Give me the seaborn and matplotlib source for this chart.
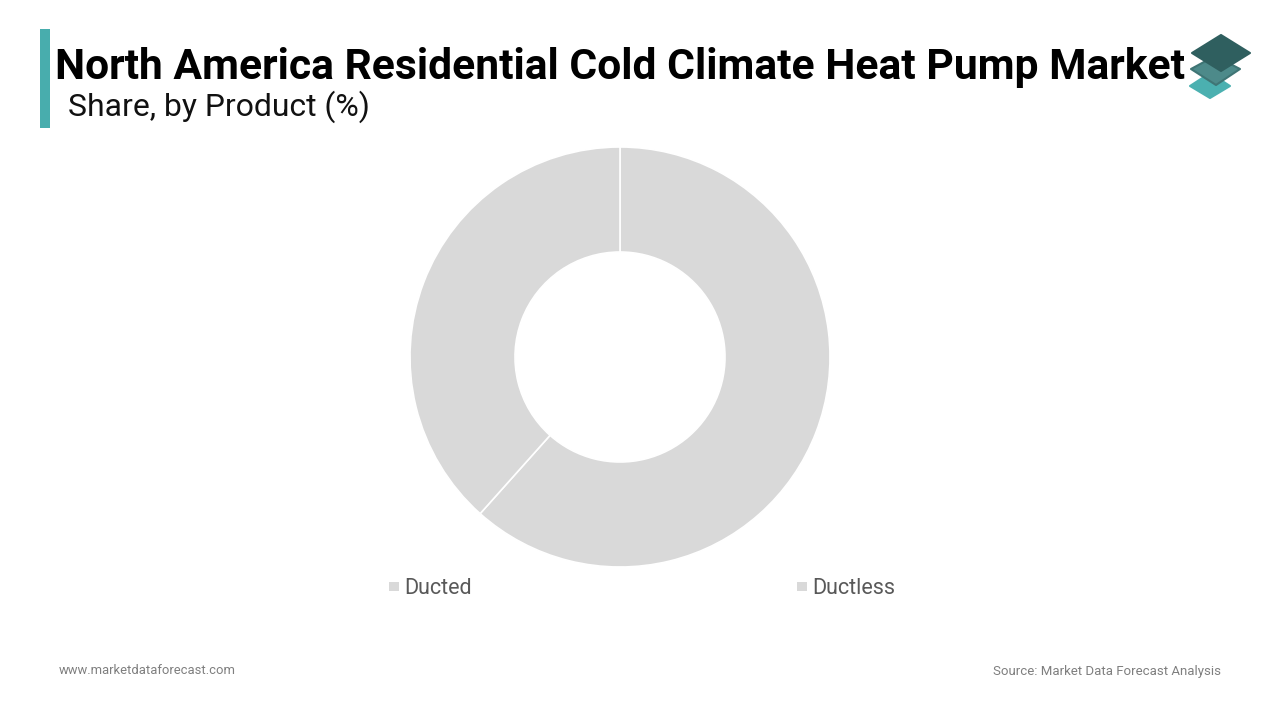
import matplotlib
matplotlib.use("Agg")
import matplotlib.pyplot as plt
from matplotlib.patches import Polygon, Rectangle
import seaborn as sns

title = "North America Residential Cold Climate Heat Pump Market"
subtitle = "Share, by Product (%)"
products = ["Ducted", "Ductless"]
shares = [61.6, 38.4]
slice_colors = ["#d9d9d9", "#d9d9d9"]
site_text = "www.marketdataforecast.com"
source_text = "Source: Market Data Forecast Analysis"

sns.set_theme(style="white")
plt.rcParams["font.family"] = ["Roboto", "DejaVu Sans"]

fig = plt.figure(figsize=(12.8, 7.2), dpi=100, facecolor="white")

# overlay in pixel coordinates for header, footer and logo
bg = fig.add_axes([0, 0, 1, 1])
bg.set_xlim(0, 1280)
bg.set_ylim(720, 0)
bg.axis("off")

bg.add_patch(Rectangle((40, 29), 10, 99, color="#48adad", lw=0))
bg.text(55, 67, title, fontsize=30.7, fontweight="bold", color="black", va="center", ha="left")
bg.text(68, 107, subtitle, fontsize=22.97, color="#111111", va="center", ha="left")

# logo, bottom layer first
bg.add_patch(Polygon([(1190, 86), (1210, 73), (1230, 86), (1210, 98)], fc="#4bb0b0", ec="#4bb0b0", lw=1.5, joinstyle="round"))
bg.add_patch(Polygon([(1191, 69), (1215, 56), (1240, 69), (1216, 85)], fc="#4d8a8a", ec="#3f7575", lw=1.5, joinstyle="round"))
bg.add_patch(Polygon([(1192, 53), (1221, 35), (1250, 53), (1221, 71)], fc="#2f5f5f", ec="#2f5f5f", lw=1.5, joinstyle="round"))

# donut, centre (620, 357), outer radius 210
ax = fig.add_axes([(620 - 210) / 1280, 1 - (357 + 210) / 720, 420 / 1280, 420 / 720])
ax.pie(
    shares,
    colors=slice_colors,
    startangle=90,
    counterclock=False,
    radius=1.0,
    wedgeprops={"width": 0.5, "edgecolor": "white", "linewidth": 1.2},
)
ax.set_xlim(-1, 1)
ax.set_ylim(-1, 1)

# legend
for name, color, x_box, x_text in zip(products, slice_colors, [389, 797], [405, 813]):
    bg.add_patch(Rectangle((x_box, 582), 10, 9, color=color, lw=0))
    bg.text(x_text - 1, 588, name, fontsize=15.5, color="#595959", va="center", ha="left")

bg.text(59, 671, site_text, fontsize=9.4, color="#7f7f7f", va="center", ha="left")
bg.text(1221, 671, source_text, fontsize=9.5, color="#7f7f7f", va="center", ha="right")

fig.savefig("out.png", dpi=100)
